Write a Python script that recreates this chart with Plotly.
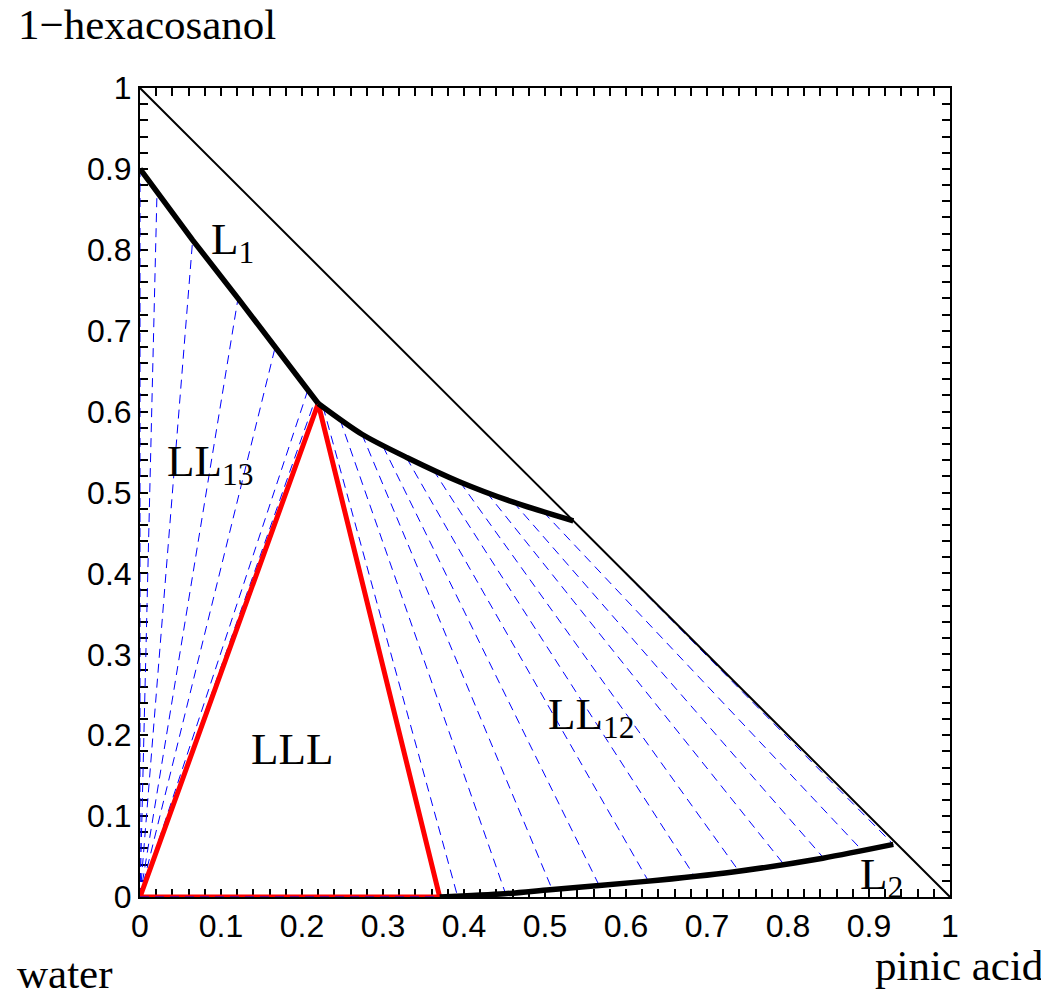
import plotly.graph_objects as go

# ---- data ----
# L1 phase boundary, steep branch (water-poor side)
l1a_x = [0.0, 0.065, 0.121, 0.167, 0.220]
l1a_y = [0.900, 0.812, 0.740, 0.680, 0.610]
# L1 phase boundary, upper curved branch
l1b_x = [0.220, 0.274, 0.330, 0.395, 0.461, 0.535]
l1b_y = [0.610, 0.572, 0.543, 0.513, 0.488, 0.465]
# L2 phase boundary (pinic-acid rich)
l2_x = [0.370, 0.450, 0.506, 0.621, 0.732, 0.843, 0.930]
l2_y = [0.000, 0.004, 0.009, 0.019, 0.031, 0.048, 0.065]
# three-phase triangle vertices
lll_x = [0.0, 0.220, 0.370, 0.0]
lll_y = [0.0, 0.610, 0.000, 0.0]
# edge of the composition triangle (x + y = 1)
edge_x = [0.0, 1.0]
edge_y = [1.0, 0.0]

# LL13 tie lines: water-side end and L1-side end
ll13_a_x = [0.0, 0.0, 0.0, 0.0, 0.0, 0.0, 0.0]
ll13_a_y = [0.0, 0.0, 0.0, 0.0, 0.0, 0.0, 0.0]
ll13_b_x = [0.0, 0.021, 0.065, 0.121, 0.167, 0.207, 0.216]
ll13_b_y = [0.900, 0.872, 0.812, 0.740, 0.680, 0.626, 0.614]

# LL12 tie lines: L1-side end and L2-side end
ll12_a_x = [0.226, 0.247, 0.274, 0.300, 0.329, 0.362, 0.395, 0.428, 0.461, 0.498, 0.535]
ll12_a_y = [0.606, 0.590, 0.572, 0.557, 0.543, 0.528, 0.513, 0.500, 0.488, 0.476, 0.465]
ll12_b_x = [0.392, 0.451, 0.509, 0.567, 0.628, 0.685, 0.740, 0.796, 0.845, 0.893, 0.930]
ll12_b_y = [0.001, 0.005, 0.009, 0.014, 0.019, 0.025, 0.031, 0.039, 0.047, 0.056, 0.065]

# bottom tie line inside the three-phase region (water to L2 corner)
bot_x = [0.0, 0.370]
bot_y = [0.0, 0.0]

tick_vals = [0, 0.1, 0.2, 0.3, 0.4, 0.5, 0.6, 0.7, 0.8, 0.9, 1]
tick_text = ["0", "0.1", "0.2", "0.3", "0.4", "0.5", "0.6", "0.7", "0.8", "0.9", "1"]

regions = [
    ("L<sub>1</sub>", 0.114, 0.81),
    ("LL<sub>13</sub>", 0.086, 0.535),
    ("LLL", 0.188, 0.183),
    ("LL<sub>12</sub>", 0.557, 0.222),
    ("L<sub>2</sub>", 0.915, 0.025),
]


def segs(ax, ay, bx, by):
    xs, ys = [], []
    for x0, y0, x1, y1 in zip(ax, ay, bx, by):
        xs += [x0, x1, None]
        ys += [y0, y1, None]
    return xs, ys


fig = go.Figure()
blue = dict(color="#0000ff", width=1, dash="9px,6px")

tx, ty = segs(ll13_a_x, ll13_a_y, ll13_b_x, ll13_b_y)
fig.add_trace(go.Scatter(x=tx, y=ty, mode="lines", line=blue, cliponaxis=False))
tx, ty = segs(ll12_a_x, ll12_a_y, ll12_b_x, ll12_b_y)
fig.add_trace(go.Scatter(x=tx, y=ty, mode="lines", line=blue, cliponaxis=False))

fig.add_trace(go.Scatter(x=edge_x, y=edge_y, mode="lines",
                         line=dict(color="black", width=2), cliponaxis=False))
fig.add_trace(go.Scatter(x=lll_x, y=lll_y, mode="lines",
                         line=dict(color="#ff0000", width=5), cliponaxis=False))
fig.add_trace(go.Scatter(x=bot_x, y=bot_y, mode="lines", line=blue, cliponaxis=False))

fig.add_trace(go.Scatter(x=l1a_x, y=l1a_y, mode="lines",
                         line=dict(color="black", width=5.5), cliponaxis=False))
for xs, ys in [(l1b_x, l1b_y), (l2_x, l2_y)]:
    fig.add_trace(go.Scatter(x=xs, y=ys, mode="lines",
                             line=dict(color="black", width=5.5, shape="spline", smoothing=0.8),
                             cliponaxis=False))

serif = "Liberation Serif, Times New Roman, serif"
for txt, x, y in regions:
    fig.add_annotation(x=x, y=y, xref="x", yref="y", text=txt, showarrow=False,
                       font=dict(family=serif, size=45, color="black"),
                       xanchor="center", yanchor="middle")

for txt, x, y in [("1\u2212hexacosanol", 0.0086, 1.078),
                  ("water", -0.093, -0.094),
                  ("pinic acid", 1.011, -0.085)]:
    fig.add_annotation(x=x, y=y, xref="paper", yref="paper", text=txt, showarrow=False,
                       font=dict(family=serif, size=43, color="black"),
                       xanchor="center", yanchor="middle")

axis_common = dict(
    range=[0, 1], tickvals=tick_vals, ticktext=tick_text,
    ticks="inside", ticklen=8, tickwidth=1.5, tickcolor="black",
    showline=True, linecolor="black", linewidth=2, mirror="ticks",
    showgrid=False, zeroline=False, layer="below traces",
    tickfont=dict(family="Liberation Sans, Arial, sans-serif", size=32, color="black"),
    minor=dict(dtick=0.02, ticks="inside", ticklen=8, tickwidth=1.5, tickcolor="black", showgrid=False),
)

fig.update_layout(
    width=1041, height=986,
    margin=dict(l=132, r=99, t=80, b=97),
    paper_bgcolor="white", plot_bgcolor="white",
    showlegend=False,
    xaxis=dict(**axis_common),
    yaxis=dict(**axis_common),
)

fig.write_html("out.html")
